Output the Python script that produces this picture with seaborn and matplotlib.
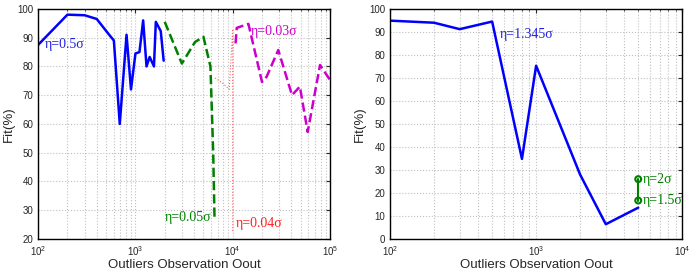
#!/usr/bin/env python3
"""Fit(%) against number of outlier observations, two panels"""

import matplotlib
matplotlib.use('Agg')
import matplotlib.pyplot as plt
import numpy as np
import pandas as pd
import seaborn as sns

# left panel
blue_x = [100, 200, 300, 400, 520, 600, 690, 810, 900, 1000, 1100, 1200,
          1300, 1400, 1550, 1620, 1820, 1950]
blue_y = [87.5, 98, 97.8, 96.5, 91.6, 89, 60, 91, 72, 84.5, 85, 96, 80,
          83.3, 80, 95.5, 92.3, 82]
green_x = [2000, 3000, 4100, 5000, 5900, 6300, 6500]
green_y = [95.5, 81, 88.5, 90.3, 80, 50, 27]
red_x = [6600, 8000, 9200, 10000, 10000]
red_y = [76, 74, 72, 93, 22]
mag_x = [10700, 11000, 14500, 20000, 22300, 29400, 40700, 49000, 59000,
         79000, 100000]
mag_y = [88, 93.4, 94.8, 74.6, 76.4, 85.7, 70, 73, 57.2, 80.5, 75.3]

# right panel
huber_x = [100, 200, 300, 500, 800, 1000, 2000, 3000, 5000]
huber_y = [94.9, 94, 91.2, 94.5, 34.8, 75.3, 28, 6.4, 13.6]
eta_x = [5000, 5000]
eta_y = [16.7, 26]


# --------------------------------------------------
def frame(x, y):
    """small frame in input order"""
    return pd.DataFrame({'x': x, 'y': y})


# --------------------------------------------------
def line(ax, x, y, **kw):
    """unsorted, unaggregated seaborn line"""
    sns.lineplot(data=frame(x, y), x='x', y='y', estimator=None, sort=False,
                 ax=ax, **kw)


# --------------------------------------------------
def style_axes(ax, ymin, xmax):
    """matlab-ish box, dotted grid, log x"""
    ax.set_xscale('log')
    ax.set_xlim(100, xmax)
    ax.set_ylim(ymin, 100)
    ax.set_yticks(np.arange(ymin, 101, 10))
    ax.grid(True, which='major', axis='both', ls=':', color='#c0c0c0', lw=0.8)
    ax.grid(True, which='minor', axis='x', ls=':', color='#c0c0c0', lw=0.8)
    ax.tick_params(which='both', direction='in', top=True, right=True,
                   labelsize=7, length=3)
    ax.tick_params(which='minor', length=1.5)
    for s in ax.spines.values():
        s.set_color('black')
        s.set_linewidth(1.0)
    ax.set_xlabel('Outliers Observation Oout', fontsize=9.5, labelpad=1)
    ax.set_ylabel('Fit(%)', fontsize=9.5, labelpad=2)


# --------------------------------------------------
def main():
    sns.set_style('white')
    plt.rcParams['font.family'] = ['Liberation Sans', 'DejaVu Sans']
    serif = ['Liberation Serif', 'DejaVu Serif']
    fs = 10

    fig = plt.figure(figsize=(6.94, 2.70), dpi=100)
    ax1 = fig.add_axes([0.055, 0.115, 0.4205, 0.852])
    ax2 = fig.add_axes([0.562, 0.115, 0.421, 0.852])

    line(ax1, blue_x, blue_y, color='#0000ff', lw=1.8)
    line(ax1, green_x, green_y, color='#008000', lw=1.8, ls='--')
    line(ax1, red_x, red_y, color='#ff6060', lw=0.8, ls=':')
    line(ax1, mag_x, mag_y, color='#cc00cc', lw=1.8, ls='--')

    ax1.text(118, 87.5, 'η=0.5σ', color='#2020e0', fontsize=fs,
             family=serif, va='center')
    ax1.text(15500, 92, 'η=0.03σ', color='#cc00cc', fontsize=fs,
             family=serif, va='center')
    ax1.text(6000, 27.5, 'η=0.05σ', color='#008000', fontsize=fs,
             family=serif, va='center', ha='right')
    ax1.text(10700, 25.5, 'η=0.04σ', color='#ff2020', fontsize=fs,
             family=serif, va='center')
    style_axes(ax1, 20, 100000)

    line(ax2, huber_x, huber_y, color='#0000ff', lw=1.8)
    line(ax2, eta_x, eta_y, color='#008000', lw=1.5)
    sns.scatterplot(data=frame(eta_x, eta_y), x='x', y='y', ax=ax2,
                    facecolor='none', edgecolor='#008000', linewidth=1.5,
                    s=18, zorder=5)
    ax2.text(5350, 26, 'η=2σ', color='#008000', fontsize=fs,
             family=serif, va='center')
    ax2.text(5350, 16.5, 'η=1.5σ', color='#008000', fontsize=fs,
             family=serif, va='center')
    ax2.text(560, 89, 'η=1.345σ', color='#2020e0', fontsize=fs,
             family=serif, va='center')
    style_axes(ax2, 0, 10000)

    fig.savefig('out.png', dpi=100)


# --------------------------------------------------
if __name__ == '__main__':
    main()
